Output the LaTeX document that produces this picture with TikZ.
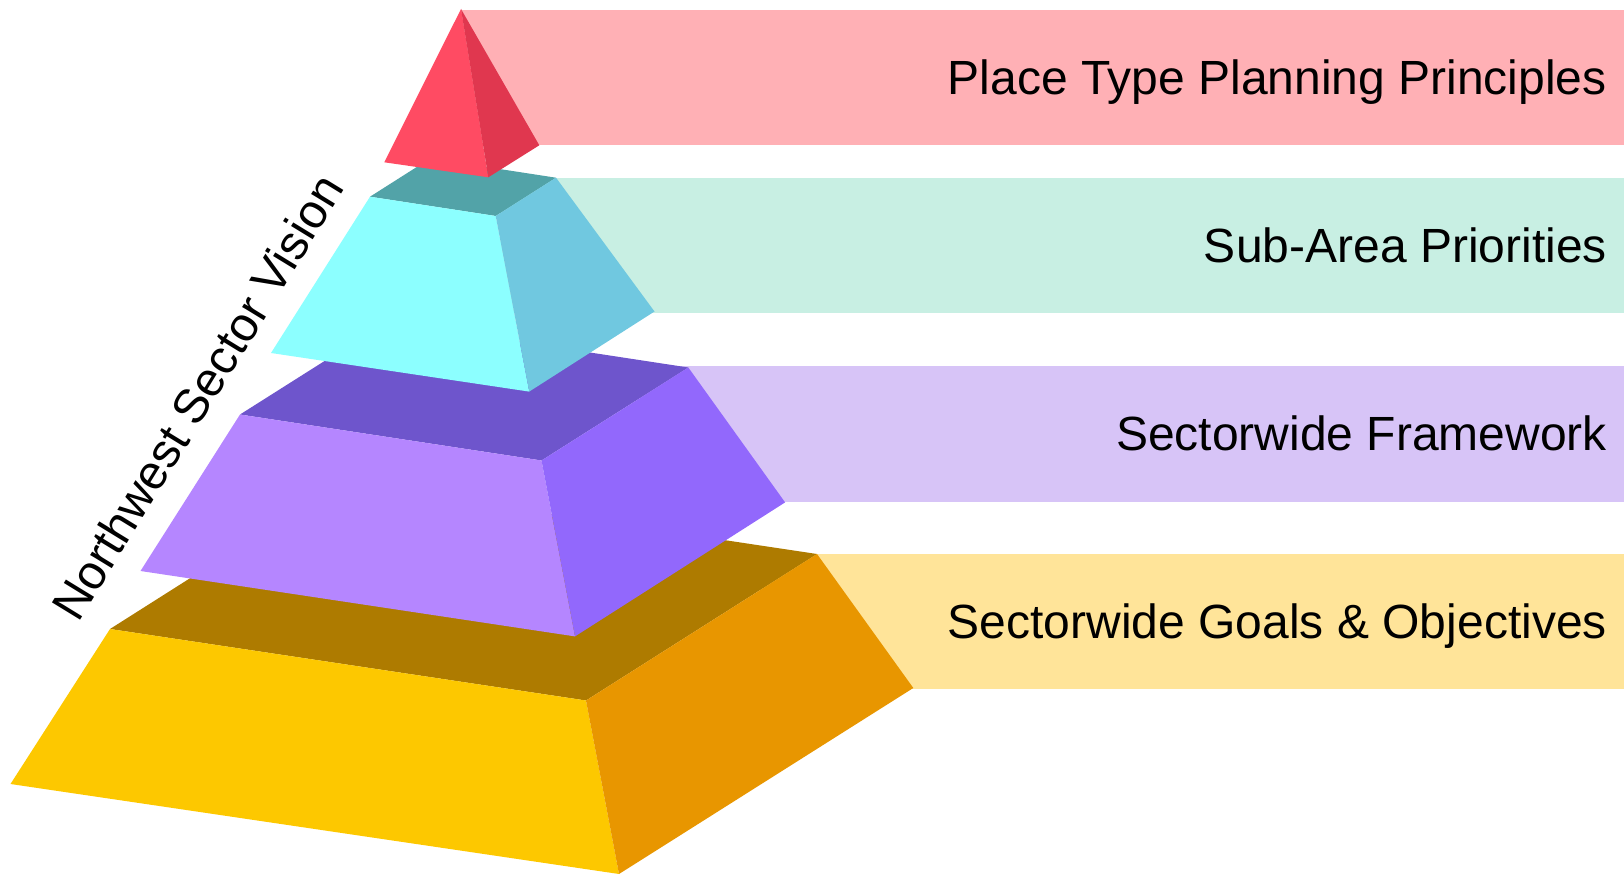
\documentclass[tikz,border=0pt]{standalone}
\usepackage{fontspec}
\setmainfont{Liberation Sans}
\definecolor{barred}{HTML}{FFB0B5}
\definecolor{barmint}{HTML}{C8EFE3}
\definecolor{barlav}{HTML}{D7C4F7}
\definecolor{baryel}{HTML}{FFE499}
\definecolor{redL}{HTML}{FF4B63}
\definecolor{redR}{HTML}{E0374F}
\definecolor{cyT}{HTML}{52A3A8}
\definecolor{cyF}{HTML}{8CFFFF}
\definecolor{cyR}{HTML}{70C8E0}
\definecolor{puT}{HTML}{6E55CC}
\definecolor{puF}{HTML}{B586FF}
\definecolor{puR}{HTML}{9268FC}
\definecolor{goT}{HTML}{AE7B00}
\definecolor{goF}{HTML}{FDC800}
\definecolor{goR}{HTML}{E89600}
\tikzset{
  face/.style={fill=#1, draw=none},
  lbl/.style={anchor=base east, inner sep=0pt, font=\fontsize{48}{56}\selectfont},
}
\begin{document}
\begin{tikzpicture}[x=1pt,y=-1pt]
\useasboundingbox (0,0) rectangle (1624,874);
% bars
\fill[barred] (461,10) rectangle (1624,145.3);
\fill[barmint] (500,178) rectangle (1624,313.5);
\fill[barlav] (640,366) rectangle (1624,502.4);
\fill[baryel] (760,554) rectangle (1624,688.5);
% gold tier
\coordinate (gTL) at (110,629);
\coordinate (gF) at (586,700.5);
\coordinate (gTR) at (817,554);
\coordinate (gB) at (341,482.5);
\coordinate (gBL) at (10.5,784);
\coordinate (gBF) at (619,874);
\coordinate (gBR) at (913.3,688);
\fill[face=goT] (gTL) -- (gF) -- (gTR) -- (gB) -- cycle;
\fill[face=goF] (gTL) -- (gF) -- (gBF) -- (gBL) -- cycle;
\fill[face=goR] (gF) -- (gTR) -- (gBR) -- (gBF) -- cycle;
% purple tier
\coordinate (pTL) at (240,414.5);
\coordinate (pF) at (541.5,460.5);
\coordinate (pTR) at (688.3,367.5);
\coordinate (pB) at (387,321.5);
\coordinate (pBL) at (140.5,571);
\coordinate (pBF) at (575,636.4);
\coordinate (pBR) at (785.1,502.4);
\fill[face=puT] (pTL) -- (pF) -- (pTR) -- (pB) -- cycle;
\fill[face=puF] (pTL) -- (pF) -- (pBF) -- (pBL) -- cycle;
\fill[face=puR] (pF) -- (pTR) -- (pBR) -- (pBF) -- cycle;
% cyan tier
\coordinate (cTL) at (370,196.7);
\coordinate (cF) at (495.7,216);
\coordinate (cTR) at (556,177.7);
\coordinate (cB) at (430.3,158.4);
\coordinate (cBL) at (271,353);
\coordinate (cBF) at (529.2,391.6);
\coordinate (cBR) at (654.5,311.5);
\fill[face=cyT] (cTL) -- (cF) -- (cTR) -- (cB) -- cycle;
\fill[face=cyF] (cTL) -- (cF) -- (cBF) -- (cBL) -- cycle;
\fill[face=cyR] (cF) -- (cTR) -- (cBR) -- (cBF) -- cycle;
% red apex
\coordinate (rA) at (461,9);
\coordinate (rBL) at (384.3,162.3);
\coordinate (rBF) at (488.3,177.3);
\coordinate (rBR) at (539.3,145.3);
\fill[face=redL] (rA) -- (rBL) -- (rBF) -- cycle;
\fill[face=redR] (rA) -- (rBF) -- (rBR) -- cycle;
% labels
\node[lbl] (l1) at (1607,94.3) {Place Type Planning Principles};
\node[lbl] (l2) at (1607,262.6) {Sub-Area Priorities};
\node[lbl] (l3) at (1607,450.8) {Sectorwide Framework};
\node[lbl] (l4) at (1607,638.5) {Sectorwide Goals \& Objectives};
\node[inner sep=0pt, anchor=base, rotate=58.5, font=\fontsize{48}{56}\selectfont] (vis) at (211.7,405.9) {Northwest Sector Vision};
\end{tikzpicture}
\end{document}
